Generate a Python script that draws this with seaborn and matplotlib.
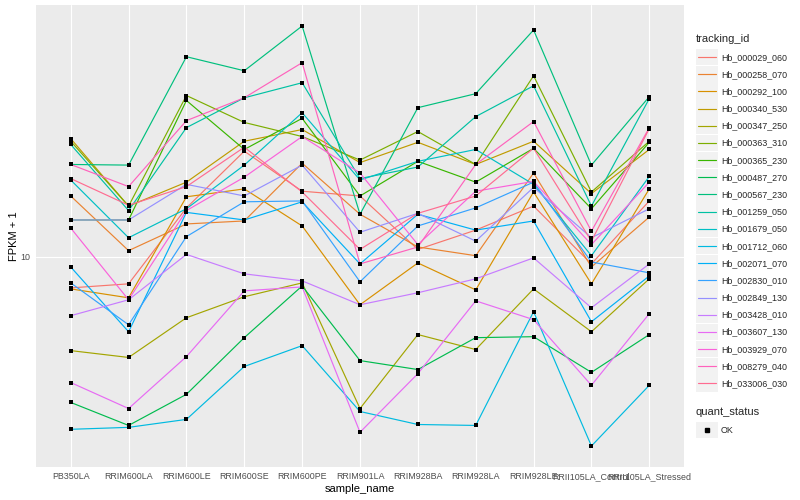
import numpy as np
import pandas as pd
import matplotlib
matplotlib.use("Agg")
import matplotlib.pyplot as plt
import seaborn as sns
from matplotlib.lines import Line2D
from matplotlib.patches import Rectangle
from matplotlib.legend_handler import HandlerBase
from matplotlib.ticker import NullLocator, FixedLocator

samples = ["PB350LA", "RRIM600LA", "RRIM600LE", "RRIM600SE", "RRIM600PE", "RRIM901LA",
           "RRIM928BA", "RRIM928LA", "RRIM928LE", "RRII105LA_Control", "RRII105LA_Stressed"]

tracking_ids = ["Hb_000029_060", "Hb_000258_070", "Hb_000292_100", "Hb_000340_530", "Hb_000347_250",
                "Hb_000363_310", "Hb_000365_230", "Hb_000487_270", "Hb_000567_230", "Hb_001259_050",
                "Hb_001679_050", "Hb_001712_060", "Hb_002071_070", "Hb_002830_010", "Hb_002849_130",
                "Hb_003428_010", "Hb_003607_130", "Hb_003929_070", "Hb_008279_040", "Hb_033006_030"]

# FPKM + 1 per sample
hb_000029_060 = [7.88, 8.13, 14.6, 22.6, 16.6, 16.0, 10.6, 12.3, 14.8, 9.48, 15.4]
hb_000258_070 = [16.0, 10.5, 12.9, 13.2, 20.6, 13.9, 10.8, 10.1, 19.1, 9.26, 13.6]
hb_000292_100 = [7.82, 7.30, 15.9, 16.9, 12.7, 6.92, 9.55, 7.76, 16.5, 8.13, 16.9]
hb_000340_530 = [24.9, 14.8, 17.8, 24.4, 26.7, 20.7, 24.2, 20.4, 24.4, 16.3, 22.9]
hb_000347_250 = [4.86, 4.61, 6.26, 7.36, 8.19, 3.11, 5.50, 4.90, 7.82, 5.62, 8.45]
hb_000363_310 = [24.4, 14.8, 34.7, 28.2, 25.3, 21.1, 26.3, 20.4, 40.4, 16.5, 24.4]
hb_000365_230 = [13.3, 13.3, 33.4, 22.9, 29.1, 16.0, 20.9, 17.8, 23.1, 14.5, 24.2]
hb_000487_270 = [3.26, 2.73, 3.47, 5.37, 8.00, 4.50, 4.20, 5.37, 5.41, 4.11, 5.50]
hb_000567_230 = [20.4, 20.3, 46.8, 42.0, 59.3, 13.9, 31.6, 35.2, 57.5, 20.3, 34.4]
hb_001259_050 = [23.8, 14.3, 27.1, 34.1, 38.3, 18.3, 20.0, 29.5, 37.4, 14.8, 33.9]
hb_001679_050 = [18.1, 11.6, 14.5, 20.3, 30.4, 18.1, 20.9, 22.9, 17.5, 10.1, 18.6]
hb_001712_060 = [2.65, 2.69, 2.86, 4.30, 5.05, 3.04, 2.75, 2.73, 6.56, 2.33, 3.72]
hb_002071_070 = [9.26, 5.62, 14.1, 13.3, 15.3, 9.48, 13.9, 12.3, 13.2, 6.07, 8.64]
hb_002830_010 = [8.19, 5.93, 11.7, 15.3, 15.4, 8.26, 12.7, 14.6, 17.8, 9.62, 8.85]
hb_002849_130 = [13.3, 13.3, 17.5, 16.0, 20.3, 12.1, 14.0, 11.3, 17.1, 11.6, 14.5]
hb_003428_010 = [6.36, 7.19, 10.2, 8.78, 8.32, 6.92, 7.59, 8.45, 9.93, 6.76, 9.48]
hb_003607_130 = [3.80, 3.11, 4.64, 7.70, 7.94, 2.59, 4.07, 7.13, 6.17, 3.72, 6.46]
hb_003929_070 = [12.5, 7.19, 14.3, 18.5, 25.3, 19.1, 11.0, 16.6, 17.9, 11.0, 17.8]
hb_008279_040 = [20.4, 17.2, 28.6, 34.1, 44.7, 9.48, 10.8, 20.4, 28.4, 12.2, 27.1]
hb_033006_030 = [18.3, 14.9, 17.2, 23.3, 16.5, 10.6, 14.0, 16.0, 23.1, 11.3, 26.9]

series = [hb_000029_060, hb_000258_070, hb_000292_100, hb_000340_530, hb_000347_250,
          hb_000363_310, hb_000365_230, hb_000487_270, hb_000567_230, hb_001259_050,
          hb_001679_050, hb_001712_060, hb_002071_070, hb_002830_010, hb_002849_130,
          hb_003428_010, hb_003607_130, hb_003929_070, hb_008279_040, hb_033006_030]

hue_colors = ["#F8766D", "#EA8331", "#D89000", "#C09B00", "#A3A500", "#7CAE00", "#39B600",
              "#00BB4E", "#00BF7D", "#00C1A3", "#00BFC4", "#00BAE0", "#00B0F6", "#35A2FF",
              "#9590FF", "#C77CFF", "#E76BF3", "#FA62DB", "#FF62BC", "#FF6C91"]

rows = []
for tid, vals in zip(tracking_ids, series):
    for s, v in zip(samples, vals):
        rows.append({"sample_name": s, "tracking_id": tid, "fpkm": v, "quant_status": "OK"})
df = pd.DataFrame(rows)

sns.set_theme(style="darkgrid")
plt.rcParams["font.family"] = ["Liberation Sans", "DejaVu Sans"]

fig = plt.figure(figsize=(8, 5), dpi=100)
ax = fig.add_axes([36 / 800, 1 - 467 / 500, (684 - 36) / 800, (467 - 5) / 500])
ax.set_facecolor("#EBEBEB")

palette = dict(zip(tracking_ids, hue_colors))
sns.lineplot(data=df, x="sample_name", y="fpkm", hue="tracking_id", hue_order=tracking_ids,
             palette=palette, sort=False, estimator=None, errorbar=None, linewidth=0.85,
             legend=False, ax=ax)
sns.scatterplot(data=df, x="sample_name", y="fpkm", color="black", marker="s", s=7,
                linewidth=0, legend=False, ax=ax, zorder=5)

ax.set_yscale("log")
lo = np.log10(df["fpkm"].min())
hi = np.log10(df["fpkm"].max())
pad = (hi - lo) * 0.05
ax.set_ylim(10 ** (lo - pad), 10 ** (hi + pad))
ax.yaxis.set_major_locator(FixedLocator([10]))
ax.yaxis.set_minor_locator(NullLocator())
ax.set_yticklabels(["10"])
ax.set_xlim(-0.6, len(samples) - 0.4)

ax.grid(True, which="major", color="white", linewidth=0.8)
ax.grid(False, which="minor")
for sp in ax.spines.values():
    sp.set_visible(False)
ax.tick_params(axis="both", which="major", length=2.2, width=0.6, color="#333333",
               labelsize=6.4, labelcolor="#4D4D4D", pad=1.6)
ax.set_xlabel("sample_name", fontsize=8, color="black", labelpad=2)
ax.set_ylabel("FPKM + 1", fontsize=8, color="black", labelpad=1)


class KeyHandler(HandlerBase):
    def create_artists(self, legend, orig_handle, xdescent, ydescent, width, height, fontsize, trans):
        bg = Rectangle((-xdescent, -ydescent), width, height, facecolor="#F2F2F2",
                       edgecolor="none", transform=trans)
        cy = -ydescent + height / 2
        if orig_handle.get_marker() in (None, "None", "", " "):
            art = Line2D([-xdescent + width * 0.1, -xdescent + width * 0.9], [cy, cy],
                         color=orig_handle.get_color(), lw=0.85, transform=trans)
        else:
            art = Line2D([-xdescent + width / 2], [cy], marker="s", ms=2.6, color="black",
                         ls="none", transform=trans)
        return [bg, art]


common = dict(loc="upper left", frameon=False, alignment="left", fontsize=6.4, title_fontsize=8,
              handlelength=2.5, handleheight=2.52, handletextpad=0.35,
              labelspacing=0.05, borderpad=0.2, borderaxespad=0,
              handler_map={Line2D: KeyHandler()})

line_handles = [Line2D([], [], color=c, marker=None) for c in hue_colors]
leg1 = fig.legend(line_handles, tracking_ids, bbox_to_anchor=(694 / 800, 1 - 32 / 500),
                  title="tracking_id", **common)
leg1._legend_box.sep = 3.5

pt_handle = [Line2D([], [], color="black", marker="s", ls="none")]
leg2 = fig.legend(pt_handle, ["OK"], bbox_to_anchor=(694 / 800, 1 - 405 / 500),
                  title="quant_status", **common)
leg2._legend_box.sep = 3.5

fig.savefig("out.png", dpi=100)
